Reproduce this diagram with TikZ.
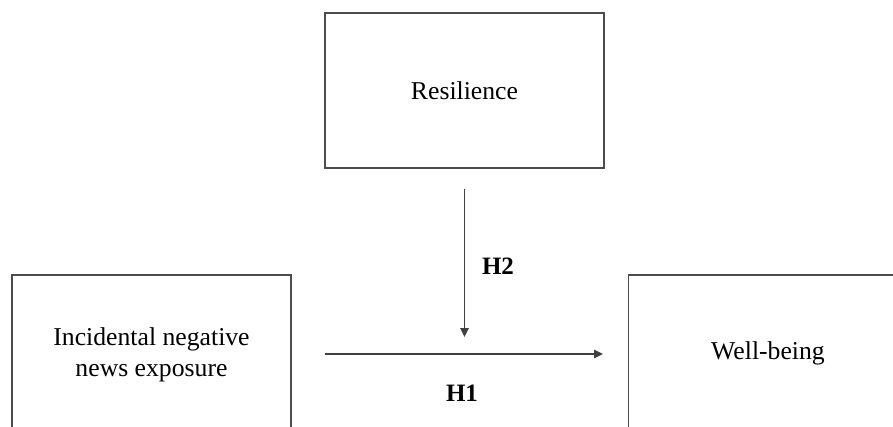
\documentclass[tikz,border=0pt]{standalone}
\usepackage{fontspec}
\setmainfont{Liberation Serif}
\usetikzlibrary{arrows.meta}
\begin{document}
\begin{tikzpicture}[x=1pt,y=1pt,
  boxnode/.style={draw=black!70, line width=1.2pt, align=center, inner sep=0pt,
    minimum width=279pt, font=\fontsize{25.7}{30.5}\selectfont},
  arr/.style={draw=black!75, line width=1.2pt, -{Triangle[length=9pt,width=8.5pt]}},
  hlabel/.style={font=\fontsize{25}{30}\selectfont\bfseries, inner sep=0pt}]
\clip (0,0) rectangle (893,426);
\fill[white] (0,0) rectangle (893,426);
\node[boxnode, minimum height=155pt] (res) at (464.5,335.5) {Resilience};
\node[boxnode, minimum height=160pt] (inc) at (151.5,71) {Incidental negative\\news exposure};
\node[boxnode, minimum height=156pt] (wb) at (768,73) {Well-being};
\coordinate (vtop) at ([yshift=-20pt]res.south);
\coordinate (vend) at (vtop |- 0,89);
\coordinate (hstart) at (325,72);
\coordinate (hend) at (603,72);
\draw[arr] (vtop) -- (vend);
\draw[arr] (hstart) -- (hend);
\node[hlabel] (h2) at (498,160) {H2};
\node[hlabel] (h1) at (462,33) {H1};
\end{tikzpicture}
\end{document}
